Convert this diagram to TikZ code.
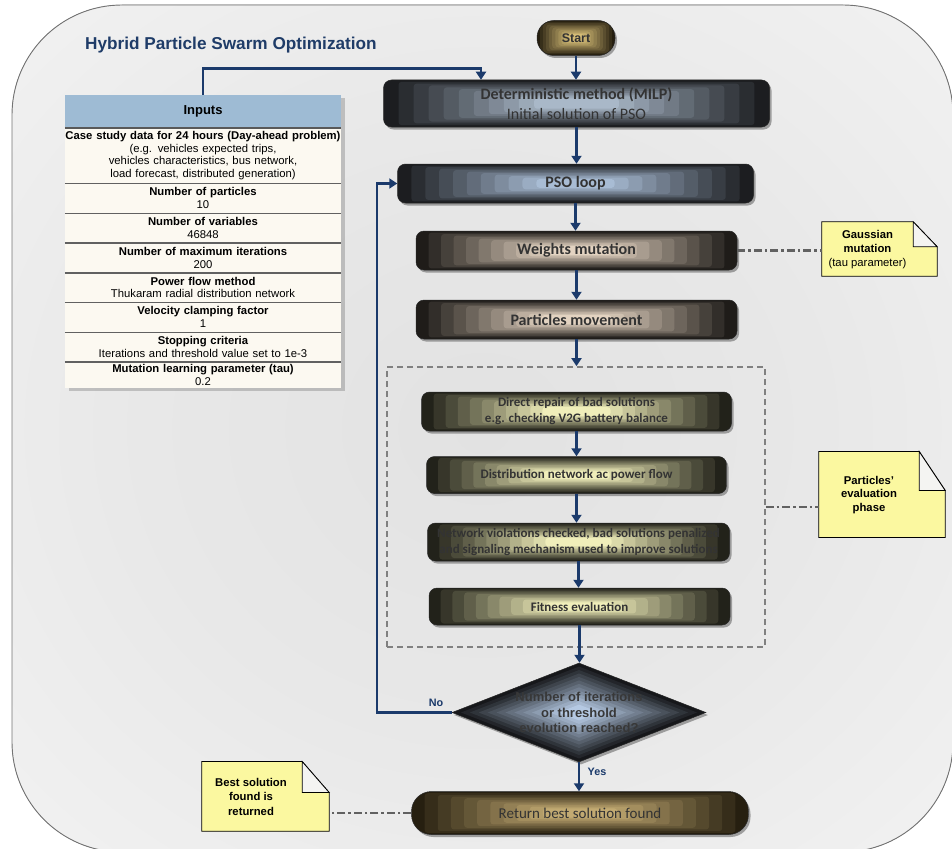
\documentclass[tikz,border=0pt]{standalone}
\usepackage{fontspec}
\setmainfont{Liberation Sans}
\newfontfamily\boxfont{Carlito}
\usetikzlibrary{calc,shapes.geometric,shadows,arrows.meta}

\definecolor{navy}{HTML}{1B3A6B}
\definecolor{titleblue}{HTML}{1F3C68}
\definecolor{hdrblue}{HTML}{9EBBD4}
\definecolor{cream}{HTML}{FCF9F1}
\definecolor{noteyel}{HTML}{FBF8A0}
\definecolor{foldcol}{HTML}{F4F4F2}
\definecolor{boxtext}{HTML}{333333}
\definecolor{gOut}{HTML}{1C1D20}\definecolor{gIn}{HTML}{A9B8C8}
\definecolor{psoIn}{HTML}{A8BCD4}
\definecolor{bOut}{HTML}{1F1C19}\definecolor{bIn}{HTML}{E3D3C1}
\definecolor{yOut}{HTML}{22221A}\definecolor{yIn}{HTML}{F0EEBA}
\definecolor{oOut}{HTML}{261F10}\definecolor{oIn}{HTML}{D4BC76}
\definecolor{rIn}{HTML}{C2AA72}
\definecolor{dOut}{HTML}{16171A}\definecolor{dIn}{HTML}{B5C9E3}
\definecolor{bgA}{HTML}{E2E2E2}
\definecolor{bgB}{HTML}{E8E8E8}
\definecolor{bgC}{HTML}{F3F3F3}
\definecolor{bgD}{HTML}{FFFFFF}

\pgfdeclareradialshading{bgshade}{\pgfpoint{0bp}{0bp}}{color(0bp)=(bgA); color(18bp)=(bgB); color(38bp)=(bgC); color(50bp)=(bgD)}

\tikzset{
  sfill/.style n args={2}{path picture={%
    \foreach \i in {0,...,10}{%
      \pgfmathsetmacro\stT{0.078*\i}%
      \pgfmathtruncatemacro\stP{10*\i}%
      \fill[#2!\stP!#1, rounded corners=3pt]
        ($(path picture bounding box.south west)!\stT!(path picture bounding box.center)$) rectangle
        ($(path picture bounding box.north east)!\stT!(path picture bounding box.center)$);
    }}},
  dfill/.style n args={2}{path picture={%
    \foreach \i in {0,...,12}{%
      \pgfmathsetmacro\stT{0.07*\i}%
      \pgfmathtruncatemacro\stP{100*\i/12}%
      \fill[#2!\stP!#1]
        ($(path picture bounding box.north)!\stT!(path picture bounding box.center)$) --
        ($(path picture bounding box.east)!\stT!(path picture bounding box.center)$) --
        ($(path picture bounding box.south)!\stT!(path picture bounding box.center)$) --
        ($(path picture bounding box.west)!\stT!(path picture bounding box.center)$) -- cycle;
    }}},
  boxshadow/.style={drop shadow={shadow xshift=2pt,shadow yshift=-2.5pt,opacity=0.45,fill=black!75}},
  fbox/.style n args={3}{rectangle, rounded corners=#3, draw=black!85, line width=0.5pt,
    inner sep=0pt, align=center, text=boxtext, boxshadow, sfill={#1}{#2},
    font=\boxfont\bfseries\fontsize{16}{19.5}\selectfont},
  evalfont/.style={font=\boxfont\bfseries\fontsize{13}{16}\selectfont},
  arr/.style={draw=navy, line width=2.3pt, -{Triangle[width=10pt,length=8pt]}},
  dashdot/.style={draw=black!62, line width=2.4pt, dash pattern=on 8pt off 3pt on 2.5pt off 3pt},
  trow/.style={rectangle, inner sep=0pt, text width=276pt, align=center, minimum height=#1,
    font=\fontsize{11.3}{12.8}\selectfont},
  sepline/.style={draw=black!62, line width=1.2pt},
  notebg/.style={fill=noteyel, draw=black, line width=0.8pt},
  notefold/.style={fill=foldcol, draw=black, line width=0.8pt},
  notetext/.style={align=center, inner sep=0pt, font=\fontsize{11.3}{13.6}\selectfont},
  lbl/.style={text=navy, font=\bfseries\fontsize{10.8}{12}\selectfont, inner sep=0pt}
}

\begin{document}
\begin{tikzpicture}[x=1pt,y=-1pt]
\useasboundingbox (0,0) rectangle (952,848);

% background panel
\fill[shading=bgshade, rounded corners=110pt] (12,5) rectangle (953,852);
\draw[black!55, line width=0.9pt, rounded corners=110pt] (12,5) rectangle (953,852);

% title
\node[anchor=west, inner sep=0pt, text=titleblue, font=\bfseries\fontsize{17.2}{20}\selectfont] (title) at (85,45) {Hybrid Particle Swarm Optimization};

% inputs table
\node[rectangle, fill=cream, minimum width=276pt, minimum height=293pt, inner sep=0pt,
      drop shadow={shadow xshift=4pt,shadow yshift=-3pt,opacity=0.18,fill=black}] (tbl) at (203,241.5) {};
\node[rectangle, fill=hdrblue, minimum width=276pt, minimum height=32.7pt, inner sep=0pt,
      font=\bfseries\fontsize{13}{15}\selectfont] (hdr) at (203,111.3) {Inputs};
\node[trow=55.6pt] (r1) at (203,155.5) {\textbf{Case study data for 24 hours (Day-ahead problem)}\\(e.g. vehicles expected trips,\\vehicles characteristics, bus network,\\load forecast, distributed generation)};
\node[trow=30pt] (r2) at (203,198.3) {\textbf{Number of particles}\\10};
\node[trow=29.4pt] (r3) at (203,228) {\textbf{Number of variables}\\46848};
\node[trow=30pt] (r4) at (203,257.7) {\textbf{Number of maximum iterations}\\200};
\node[trow=29.6pt] (r5) at (203,287.5) {\textbf{Power flow method}\\Thukaram radial distribution network};
\node[trow=30pt] (r6) at (203,317.3) {\textbf{Velocity clamping factor}\\1};
\node[trow=29.4pt] (r7) at (203,347) {\textbf{Stopping criteria}\\Iterations and threshold value set to 1e-3};
\node[trow=26pt] (r8) at (203,375) {\textbf{Mutation learning parameter (tau)}\\0.2};
\draw[draw=black!65, line width=1.8pt] (hdr.south west) -- (hdr.south east);
\foreach \r in {r1,r2,r3,r4,r5,r6,r7}{
  \draw[sepline] (\r.south west) -- (\r.south east);
}

% dashed evaluation phase frame
\node[rectangle, draw=black!50, line width=1.8pt, dash pattern=on 6pt off 4pt,
      minimum width=378pt, minimum height=280pt, inner sep=0pt] (phase) at (576,507) {};

% flow boxes
\node[fbox={oOut}{oIn}{17pt}, minimum width=78pt, minimum height=35pt,
      font=\bfseries\fontsize{12.5}{14}\selectfont] (start) at (576,38) {Start};
\node[fbox={gOut}{gIn}{8pt}, minimum width=386pt, minimum height=47pt] (milp) at (576.5,103.5)
      {Deterministic method (MILP)\\{\mdseries Initial solution of PSO}};
\node[fbox={gOut}{psoIn}{8pt}, minimum width=356pt, minimum height=39pt] (pso) at (575.5,183.5) {PSO loop};
\node[fbox={bOut}{bIn}{8pt}, minimum width=321pt, minimum height=39pt] (weights) at (576.5,250.5) {Weights mutation};
\node[fbox={bOut}{bIn}{8pt}, minimum width=321pt, minimum height=39pt] (moves) at (576.5,319.5) {Particles movement};
\node[fbox={yOut}{yIn}{8pt}, evalfont, minimum width=310pt, minimum height=39pt] (repair) at (576.5,411.5)
      {Direct repair of bad solutions\\e.g. checking V2G battery balance};
\node[fbox={yOut}{yIn}{8pt}, evalfont, minimum width=300pt, minimum height=37pt] (acpf) at (576.5,475)
      {Distribution network ac power flow};
\node[fbox={yOut}{yIn}{8pt}, evalfont, minimum width=302pt, minimum height=38pt] (viol) at (578.5,542)
      {Network violations checked, bad solutions penalized\\and signaling mechanism used to improve solutions};
\node[fbox={yOut}{yIn}{8pt}, evalfont, minimum width=301pt, minimum height=37pt] (fit) at (579.5,606.5)
      {Fitness evaluation};

% decision
\node[diamond, minimum width=254pt, minimum height=99pt, inner sep=0pt, draw=black!85, line width=0.5pt,
      dfill={dOut}{dIn}, boxshadow] (dia) at (579,712.5) {};
\node[align=center, inner sep=0pt, text=black!78, font=\bfseries\fontsize{13}{15.5}\selectfont] (diatext) at (579,712.5)
      {Number of iterations\\or threshold\\evolution reached?};

\node[fbox={oOut}{rIn}{20pt}, minimum width=337pt, minimum height=43pt,
      font=\boxfont\fontsize{15}{18}\selectfont] (ret) at (580,813) {Return best solution found};

% connectors
\coordinate (c1) at (203,68.5);
\coordinate (c2) at (481,68.5);
\draw[arr] (hdr.north -| c1) -- (c1) -- (c2) -- (c2 |- milp.north);
\draw[arr] (start.south) -- (start.south |- milp.north);
\draw[arr] (milp.south) -- (milp.south |- pso.north);
\draw[arr] (pso.south) -- (pso.south |- weights.north);
\draw[arr] (weights.south) -- (weights.south |- moves.north);
\draw[arr] (moves.south) -- (moves.south |- phase.north);
\draw[arr] (repair.south) -- (repair.south |- acpf.north);
\draw[arr] (acpf.south) -- (acpf.south |- viol.north);
\draw[arr] (viol.south) -- (viol.south |- fit.north);
\draw[arr] (fit.south) -- (fit.south |- dia.north);
\coordinate (loopc) at (377,712.5);
\draw[arr] (dia.west) -- (loopc) |- (pso.west);
\draw[arr] (dia.south) -- (dia.south |- ret.north);
\node[lbl] (nolbl) at (436,703) {No};
\node[lbl] (yeslbl) at (597,772) {Yes};

% notes
\node[minimum width=115pt, minimum height=54pt, inner sep=0pt] (gnote) at (879.5,249) {};
\draw[notebg] (gnote.south west) -- (gnote.north west) -- ($(gnote.north east)+(-24,0)$) -- ($(gnote.north east)+(0,25)$) -- (gnote.south east) -- cycle;
\draw[notefold] ($(gnote.north east)+(-24,0)$) -- ($(gnote.north east)+(-24,25)$) -- ($(gnote.north east)+(0,25)$) -- cycle;
\node[notetext] (gtext) at (867.5,249.5) {\textbf{Gaussian}\\\textbf{mutation}\\(tau parameter)};

\node[minimum width=126pt, minimum height=85.6pt, inner sep=0pt] (pnote) at (882,494.5) {};
\draw[notebg] (pnote.south west) -- (pnote.north west) -- ($(pnote.north east)+(-26,0)$) -- ($(pnote.north east)+(0,39)$) -- (pnote.south east) -- cycle;
\draw[notefold] ($(pnote.north east)+(-26,0)$) -- ($(pnote.north east)+(-26,39)$) -- ($(pnote.north east)+(0,39)$) -- cycle;
\node[notetext, font=\bfseries\fontsize{11.3}{13.3}\selectfont] (ptext) at (869,495) {Particles'\\evaluation\\phase};

\node[minimum width=127pt, minimum height=69.3pt, inner sep=0pt] (bnote) at (265.5,796.4) {};
\draw[notebg] (bnote.south west) -- (bnote.north west) -- ($(bnote.north east)+(-27,0)$) -- ($(bnote.north east)+(0,31)$) -- (bnote.south east) -- cycle;
\draw[notefold] ($(bnote.north east)+(-27,0)$) -- ($(bnote.north east)+(-27,31)$) -- ($(bnote.north east)+(0,31)$) -- cycle;
\node[notetext, font=\bfseries\fontsize{11.3}{14.5}\selectfont] (btext) at (251,796.5) {Best solution\\found is\\returned};

% dash-dot links
\draw[dashdot] (weights.east) -- (weights.east -| gnote.west);
\draw[dashdot] (phase.east) -- (phase.east -| pnote.west);
\draw[dashdot] (ret.west) -- (ret.west -| bnote.east);
\end{tikzpicture}
\end{document}
